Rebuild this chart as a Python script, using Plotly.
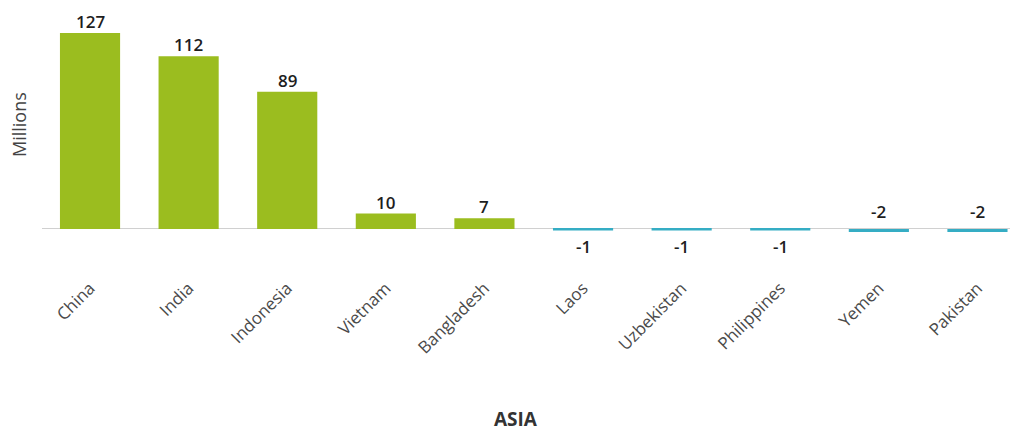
import plotly.graph_objects as go

# Net change by country, in millions
countries = ["China", "India", "Indonesia", "Vietnam", "Bangladesh",
             "Laos", "Uzbekistan", "Philippines", "Yemen", "Pakistan"]
values = [127, 112, 89, 10, 7, -1, -1, -1, -2, -2]

GREEN = "#9bbd1f"
BLUE = "#35adc4"
colors = [GREEN if v >= 0 else BLUE for v in values]

fig = go.Figure(
    go.Bar(
        x=countries,
        y=values,
        marker=dict(color=colors, line=dict(width=0)),
        width=0.61,
        hoverinfo="x+y",
    )
)

# Value labels: positives above the bar; small negatives below, larger ones above the baseline
for c, v in zip(countries, values):
    if v >= 0:
        ann = dict(y=v, yanchor="bottom", yshift=-2)
    elif v <= -2:
        ann = dict(y=0, yanchor="bottom", yshift=4)
    else:
        ann = dict(y=v, yanchor="top", yshift=-2)
    fig.add_annotation(
        x=c, text=str(v), showarrow=False,
        font=dict(family="Open Sans", size=17, color="#1e1e1e", weight=600),
        **ann,
    )

fig.add_annotation(
    text="<b>ASIA</b>", xref="paper", yref="paper",
    x=0.49, y=0.0, yanchor="top", yshift=-144, showarrow=False,
    font=dict(family="Open Sans", size=19, color="#333333"),
)

fig.add_annotation(
    text="Millions", xref="paper", yref="paper", textangle=-90,
    x=0.0, y=0.551, xanchor="right", yanchor="middle", xshift=-9,
    showarrow=False,
    font=dict(family="Open Sans", size=18, color="#444444"),
)

fig.update_layout(
    width=1015, height=431,
    margin=dict(l=42, r=5, t=15, b=171),
    paper_bgcolor="white", plot_bgcolor="white",
    showlegend=False,
    bargap=0.39,
    xaxis=dict(
        range=[-0.487, 9.33],
        tickangle=-45,
        ticklabelstandoff=14,
        tickfont=dict(family="Open Sans", size=17, color="#4a4a4a"),
        showgrid=False, showline=False, ticks="",
    ),
    yaxis=dict(
        range=[-20.1, 138.7],
        showticklabels=False, showgrid=False, ticks="",
        zeroline=True, zerolinecolor="#d0d0d0", zerolinewidth=1,
    ),
)

fig.write_html("out.html")
